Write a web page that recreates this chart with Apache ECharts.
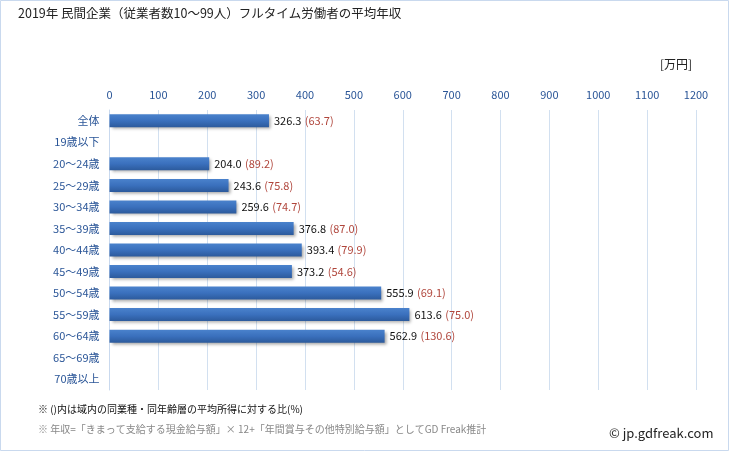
<!DOCTYPE html>
<html><head><meta charset="utf-8">
<script src="https://cdn.jsdelivr.net/npm/echarts@6/dist/echarts.min.js"></script>
<style>html,body{margin:0;padding:0;background:#fff}#c{width:729px;height:451px}</style>
</head><body><div id="c"></div>
<script>
const categories = ['全体','19歳以下','20～24歳','25～29歳','30～34歳','35～39歳','40～44歳','45～49歳','50～54歳','55～59歳','60～64歳','65～69歳','70歳以上'];
const values = [326.3, null, 204.0, 243.6, 259.6, 376.8, 393.4, 373.2, 555.9, 613.6, 562.9, null, null];
const ratios = [63.7, null, 89.2, 75.8, 74.7, 87.0, 79.9, 54.6, 69.1, 75.0, 130.6, null, null];
const ticks = [0,100,200,300,400,500,600,700,800,900,1000,1100,1200];

const chart = echarts.init(document.getElementById('c'), null, {renderer:'canvas'});
const font = '"Noto Sans CJK JP", "Noto Sans", sans-serif';
chart.setOption({
  animation:false,
  backgroundColor:'#fff',
  graphic:[
    {type:'rect', shape:{x:0.5,y:0.5,width:728,height:450}, style:{fill:'none', stroke:'#c9d9ee', lineWidth:1}},
    {type:'text', left:18, top:7, style:{text:'2019年 民間企業（従業者数10～99人）フルタイム労働者の平均年収', font:'12.5px '+font, fill:'#222'}},
    {type:'text', left:660, top:58, style:{text:'[万円]', font:'12px '+font, fill:'#222'}},
    {type:'text', left:38, top:404, style:{text:'※ ()内は域内の同業種・同年齢層の平均所得に対する比(%)', font:'10px '+font, fill:'#111'}},
    {type:'text', left:38, top:424, style:{text:'※ 年収=「きまって支給する現金給与額」× 12+「年間賞与その他特別給与額」としてGD Freak推計', font:'10px '+font, fill:'#888'}},
    {type:'text', left:609, top:427, style:{text:'© jp.gdfreak.com', font:'13px '+font, fill:'#222'}}
  ],
  grid:{left:109.5, right:33, top:110, bottom:61, containLabel:false},
  xAxis:{type:'value', position:'top', min:0, max:1200, interval:100,
    axisLine:{show:false}, axisTick:{show:false},
    axisLabel:{color:'#2a5597', fontSize:11, fontFamily:font, margin:10, formatter:v => String(v)},
    splitLine:{show:true, lineStyle:{color:'#d2e0f0', width:1}}},
  yAxis:{type:'category', data:categories, inverse:true,
    axisLine:{show:true, lineStyle:{color:'#c9d9ee'}}, axisTick:{show:false},
    axisLabel:{color:'#2a5597', fontSize:11, fontFamily:font, margin:10}},
  series:[{type:'bar', data:values, barWidth:13,
    itemStyle:{color:new echarts.graphic.LinearGradient(0,0,0,1,[{offset:0,color:'#4a82cc'},{offset:0.5,color:'#3a70bd'},{offset:1,color:'#2c5a9c'}]),
      shadowColor:'rgba(0,0,0,0.35)', shadowBlur:3, shadowOffsetX:2, shadowOffsetY:2},
    label:{show:true, position:'right', distance:5,
      formatter:p => (p.value==null?'':'{v|'+p.value.toFixed(1)+'} {r|('+ratios[p.dataIndex].toFixed(1)+')}'),
      rich:{v:{color:'#111', fontSize:11, fontFamily:font}, r:{color:'#b0463c', fontSize:11, fontFamily:font}}}
  }]
});
</script></body></html>
